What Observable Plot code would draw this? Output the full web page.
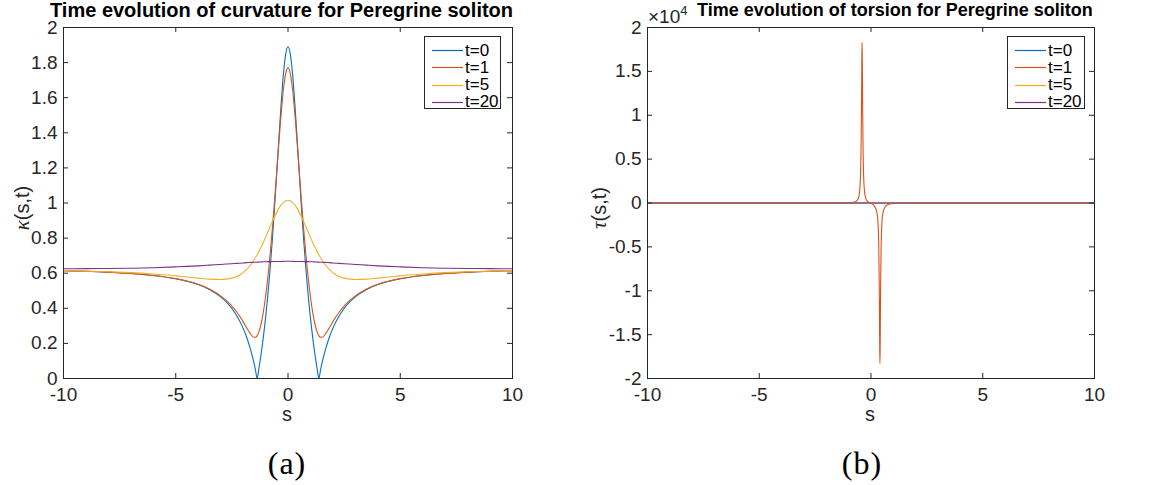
<!DOCTYPE html>
<html>
<head>
<meta charset="utf-8">
<script src="https://cdn.jsdelivr.net/npm/d3@7"></script>
<script src="https://cdn.jsdelivr.net/npm/@observablehq/plot@0.6"></script>
<style>
  html, body { margin: 0; padding: 0; background: #fff; }
  #fig { position: relative; width: 1168px; height: 485px; overflow: hidden;
         font-family: "Liberation Sans", Arial, Helvetica, sans-serif; color: #000; }
  .abs { position: absolute; white-space: nowrap; }
  .title { font-weight: bold; font-size: 20px; line-height: 14px; color: #000; }
  .axlab { font-size: 20px; line-height: 14px; color: #262626; }
  .ylab { transform: translate(-50%, -50%) rotate(-90deg); line-height: 20px; }
  .greek { font-family: "Liberation Serif", "DejaVu Serif", serif; font-style: italic; font-size: 21px; }
  .cap { font-family: "Liberation Serif", "DejaVu Serif", serif; font-size: 32px; line-height: 32px; letter-spacing: 1px; transform: translateX(-50%); color: #000; }
  .legend { background: #fff; border: 1px solid #262626; box-sizing: border-box; font-size: 17px; color: #000; }
  .legrow { position: absolute; left: 0; height: 17px; }
  .expo { font-size: 19px; line-height: 19px; color: #262626; }
  .expo sup { font-size: 13px; vertical-align: 8px; line-height: 0; }
</style>
</head>
<body>
<div id="fig"></div>
<script>
// ---------- data ----------
const sGrid = [-10,-9,-8,-7,-6,-5,-4.5,-4,-3.5,-3,-2.75,-2.5,-2.25,-2,-1.85,-1.7,-1.55,-1.45,-1.375,-1.3,-1.2,-1.1,-1,-0.9,-0.8,-0.7,-0.6,-0.5,-0.4,-0.3,-0.2,-0.1,
  0,0.1,0.2,0.3,0.4,0.5,0.6,0.7,0.8,0.9,1,1.1,1.2,1.3,1.375,1.45,1.55,1.7,1.85,2,2.25,2.5,2.75,3,3.5,4,4.5,5,6,7,8,9,10];

const kappaT0 = [0.614,0.611,0.605,0.598,0.587,0.568,0.554,0.535,0.507,0.465,0.436,0.399,0.351,0.287,0.238,0.179,0.107,0.049,0.000,0.054,0.137,0.233,0.344,0.472,0.620,0.787,0.974,1.174,1.380,1.575,1.740,1.851,
  1.890,1.851,1.740,1.575,1.380,1.174,0.974,0.787,0.620,0.472,0.344,0.233,0.137,0.054,0.000,0.049,0.107,0.179,0.238,0.287,0.351,0.399,0.436,0.465,0.507,0.535,0.554,0.568,0.587,0.598,0.605,0.611,0.614];

const kappaT1 = [0.614,0.611,0.606,0.598,0.587,0.569,0.555,0.537,0.510,0.471,0.445,0.413,0.373,0.324,0.291,0.260,0.237,0.235,0.243,0.264,0.310,0.377,0.466,0.575,0.702,0.849,1.010,1.182,1.355,1.516,1.650,1.739,
  1.770,1.739,1.650,1.516,1.355,1.182,1.010,0.849,0.702,0.575,0.466,0.377,0.310,0.264,0.243,0.235,0.237,0.260,0.291,0.324,0.373,0.413,0.445,0.471,0.510,0.537,0.555,0.569,0.587,0.598,0.606,0.611,0.614];

const kappaT5 = [0.615,0.612,0.608,0.603,0.595,0.585,0.578,0.572,0.566,0.564,0.566,0.572,0.583,0.603,0.620,0.641,0.667,0.688,0.704,0.722,0.748,0.775,0.804,0.834,0.864,0.894,0.922,0.948,0.971,0.990,1.004,1.013,
  1.016,1.013,1.004,0.990,0.971,0.948,0.922,0.894,0.864,0.834,0.804,0.775,0.748,0.722,0.704,0.688,0.667,0.641,0.620,0.603,0.583,0.572,0.566,0.564,0.566,0.572,0.578,0.585,0.595,0.603,0.608,0.612,0.615];

const kappaT20 = [0.625,0.626,0.627,0.628,0.631,0.636,0.639,0.642,0.646,0.650,0.652,0.654,0.656,0.658,0.660,0.661,0.662,0.662,0.663,0.663,0.664,0.665,0.665,0.666,0.666,0.666,0.667,0.667,0.667,0.667,0.668,0.668,
  0.668,0.668,0.668,0.667,0.667,0.667,0.667,0.666,0.666,0.666,0.665,0.665,0.664,0.663,0.663,0.662,0.662,0.661,0.660,0.658,0.656,0.654,0.652,0.650,0.646,0.642,0.639,0.636,0.631,0.628,0.627,0.626,0.625];

const tauS1 = [-10,-5,-2,-1.2,-0.9,-0.7,-0.6,-0.55,-0.5,-0.47,-0.45,-0.43,-0.42,-0.41,-0.4,-0.39,-0.38,-0.37,-0.35,-0.33,
  -0.3,-0.25,-0.2,-0.1,0,0.1,0.2,0.25,0.3,0.33,0.35,0.37,0.38,0.39,0.4,0.41,0.42,0.43,0.45,0.47,0.5,0.55,0.6,0.7,0.9,1.2,2,5,10];
const tauT1 = [0,0,3,10,50,150,380,700,1600,3100,5300,9700,13000,16500,18300,16500,13000,9700,5300,3100,
  1600,700,340,80,-30,-200,-570,-930,-1790,-3300,-5400,-9700,-13000,-16500,-18300,-16500,-13000,-9700,-5400,-3300,-1800,-950,-600,-250,-70,-15,-3,0,0];

const tauSFlat = [-10,-5,0,5,10];
const tauT0 = [0,0,0,0,0];
const tauT5 = [0,0,0,0,0];
const tauT20 = [0,0,0,0,0];

const seriesLabels = ["t=0","t=1","t=5","t=20"];
const seriesColors = ["#0072BD","#D95319","#EDB120","#7E2F8E"];

const xTicks = [-10,-5,0,5,10];
const yTicksKappa = [0,0.2,0.4,0.6,0.8,1,1.2,1.4,1.6,1.8,2];
const yTicksTau = [-20000,-15000,-10000,-5000,0,5000,10000,15000,20000];

const titles = ["Time evolution of curvature for Peregrine soliton", "Time evolution of torsion for Peregrine soliton"];
const captions = ["(a)", "(b)"];

// ---------- drawing ----------
const fig = document.getElementById("fig");
const axisColor = "#262626";
const H = 420, MT = 27, MB = 42;

function rows(xs, ys) { return xs.map((s, i) => ({s, v: ys[i]})); }

function panel({left, width, ml, mr, series, yDomain, yTicks, fmt}) {
  const plotW = width - ml - mr, plotH = H - MT - MB;
  const svg = Plot.plot({
    width, height: H,
    marginLeft: ml, marginRight: mr, marginTop: MT, marginBottom: MB,
    style: {fontFamily: '"Liberation Sans", Arial, sans-serif', fontSize: "19px", color: axisColor, background: "transparent", overflow: "visible"},
    x: {domain: [-10, 10], label: null},
    y: {domain: yDomain, label: null},
    marks: [
      Plot.axisX(xTicks, {anchor: "bottom", tickSize: 0, tickPadding: 9, tickFormat: d => String(d), label: null}),
      Plot.axisY(yTicks, {anchor: "left", tickSize: 0, tickPadding: 6, tickFormat: fmt, label: null}),
      ...series.map(([xs, ys, c]) => Plot.line(rows(xs, ys), {x: "s", y: "v", stroke: c, strokeWidth: 1.1, curve: "monotone-x"})),
      Plot.tickX(xTicks, {x: d => d, insetTop: plotH - 5, stroke: axisColor, strokeWidth: 1}),
      Plot.tickX(xTicks, {x: d => d, insetBottom: plotH - 5, stroke: axisColor, strokeWidth: 1}),
      Plot.tickY(yTicks, {y: d => d, insetRight: plotW - 5, stroke: axisColor, strokeWidth: 1}),
      Plot.tickY(yTicks, {y: d => d, insetLeft: plotW - 5, stroke: axisColor, strokeWidth: 1}),
      Plot.frame({stroke: axisColor, strokeWidth: 1})
    ]
  });
  svg.style.position = "absolute";
  svg.style.left = left + "px";
  svg.style.top = "0px";
  fig.appendChild(svg);
}

panel({left: 0, width: 580, ml: 63, mr: 68,
  series: [[sGrid, kappaT0, seriesColors[0]], [sGrid, kappaT1, seriesColors[1]], [sGrid, kappaT5, seriesColors[2]], [sGrid, kappaT20, seriesColors[3]]],
  yDomain: [0, 2], yTicks: yTicksKappa, fmt: d => String(d)});

panel({left: 580, width: 588, ml: 67, mr: 74,
  series: [[tauSFlat, tauT0, seriesColors[0]], [tauS1, tauT1, seriesColors[1]], [tauSFlat, tauT5, seriesColors[2]], [tauSFlat, tauT20, seriesColors[3]]],
  yDomain: [-20000, 20000], yTicks: yTicksTau, fmt: d => String(d / 1e4)});

function addText(cls, html, style) {
  const el = document.createElement("div");
  el.className = "abs " + cls;
  el.innerHTML = html;
  Object.assign(el.style, style);
  fig.appendChild(el);
  return el;
}

// titles
addText("title", titles[0], {left: "50px", top: "2.5px"});
addText("title", titles[1], {left: "697px", top: "3px", fontSize: "18px"});
// exponent
addText("expo", "×10<sup>4</sup>", {left: "648px", top: "7px"});
// axis labels
addText("axlab", "s", {left: "287px", top: "407px", transform: "translateX(-50%)"});
addText("axlab", "s", {left: "870px", top: "407px", transform: "translateX(-50%)"});
addText("axlab ylab", '<span class="greek">κ</span>(s,t)', {left: "22px", top: "208px"});
addText("axlab ylab", '<span class="greek">τ</span>(s,t)', {left: "599px", top: "208px"});
// captions
addText("cap", captions[0], {left: "287px", top: "447px"});
addText("cap", captions[1], {left: "862px", top: "447px"});

// legends
function legend(left, top, width) {
  const box = document.createElement("div");
  box.className = "abs legend";
  Object.assign(box.style, {left: left + "px", top: top + "px", width: width + "px", height: "73px"});
  seriesLabels.forEach((lab, i) => {
    const r = document.createElement("div");
    r.className = "legrow";
    r.style.top = (5 + i * 17.3) + "px";
    r.style.width = width + "px";
    r.innerHTML = `<svg width="${width}" height="17" style="position:absolute;left:0;top:0"><line x1="7" x2="38" y1="8.5" y2="8.5" stroke="${seriesColors[i]}" stroke-width="1.2"/></svg><span style="position:absolute;left:40px;top:-0.5px;line-height:18px">${lab}</span>`;
    box.appendChild(r);
  });
  fig.appendChild(box);
}
legend(424, 36, 77);
legend(1007, 36, 78);
</script>
</body>
</html>
